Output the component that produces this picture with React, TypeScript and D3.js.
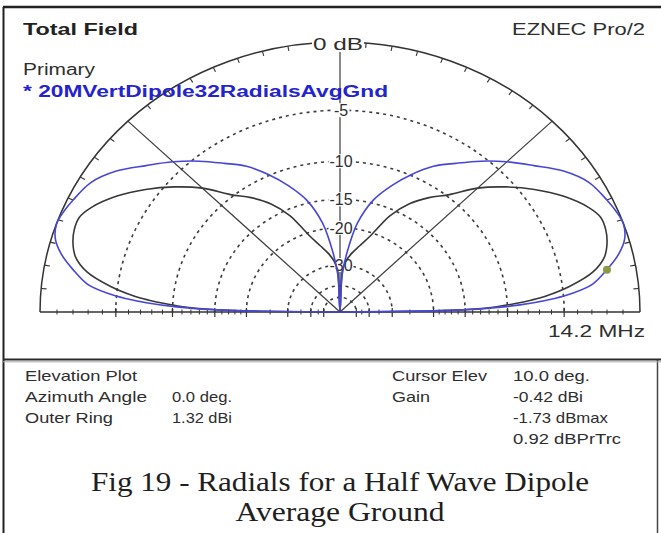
import React from 'react';
import * as d3 from 'd3';

// Elevation angles (deg) at which the two patterns are sampled; the far side mirrors them.
const elevationDeg = [0, 1, 2, 3, 4, 5, 7, 10, 13, 16, 19, 22, 25, 30, 35, 40, 45, 50, 55, 60, 65, 70, 75, 80, 84, 87, 90];
// Primary trace, gain in dBi
const primaryDbi = [-99, -15.7, -10.2, -8.0, -6.3, -5.0, -3.2, -1.34, -0.4, 0.0, 0.2, 0.2, -0.2, -1.3, -2.7, -4.3, -6.1, -8.4, -10.0, -11.9, -14.7, -19.2, -22.2, -24.7, -27.2, -30.7, -99];
// 20MVertDipole32RadialsAvgGnd trace, gain in dBi
const radialsDbi = [-99, -14.7, -9.1, -6.3, -4.4, -3.1, -1.5, -0.42, 0.5, 1.1, 1.31, 1.2, 1.0, 0.6, -0.3, -1.6, -2.8, -4.1, -5.5, -6.8, -8.6, -10.7, -13.2, -17.5, -24.7, -32.7, -99];

const outerRingDbi = 1.32;
const ringDb = [-5, -10, -15, -20, -30, -40, -50];
const labeledRingDb = [-5, -10, -15, -20, -30];
const baselineTickDb = [-1, -2, -3, -4, -6, -7, -8, -9, -11, -12, -13, -14, -16, -17, -18, -19, -25, -35, -45];
const arcTickDeg = [5, 10, 15, 20, 25, 30, 35, 40, 50, 55, 60, 65, 70, 75, 80, 85, 95, 100, 105, 110, 115, 120, 125, 130, 140, 145, 150, 155, 160, 165, 170, 175];
const spokeDeg = [45, 90, 135];

const cursorElevDeg = 10.0;
const cursorGainDbi = -0.42;

const infoLeft: [string, string][] = [
  ['Elevation Plot', ''],
  ['Azimuth Angle', '0.0 deg.'],
  ['Outer Ring', '1.32 dBi'],
];
const infoRight: [string, string][] = [
  ['Cursor Elev', '10.0 deg.'],
  ['Gain', '-0.42 dBi'],
  ['', '-1.73 dBmax'],
  ['', '0.92 dBPrTrc'],
];
const captionLines = ['Fig 19 - Radials for a Half Wave Dipole', 'Average Ground'];

const W = 661;
const H = 533;
const CX = 340;
const CY = 312;
const RX = 300;
const RY = 270;

const SANS = "'Liberation Sans', Arial, sans-serif";
const SERIF = "'Liberation Serif', 'Times New Roman', serif";
const INK = '#2e2e2e';
const BLUE_LINE = '#4747d6';
const BLUE_TEXT = '#2323cf';

// ARRL log scale: radius shrinks by 0.89 for every 2 dB below the outer ring
const ringRadius = (dbRel: number) => Math.pow(0.89, -dbRel / 2);

const xs = d3.scaleLinear().domain([-1, 1]).range([CX - RX, CX + RX]);
const ys = d3.scaleLinear().domain([0, 1]).range([CY, CY - RY]);

const toXY = (deg: number, r: number): [number, number] => {
  const a = (deg * Math.PI) / 180;
  return [xs(r * Math.cos(a)), ys(r * Math.sin(a))];
};

const fullPattern = (vals: number[]): [number, number][] => {
  const pts: [number, number][] = elevationDeg.map((e, i) => [e, vals[i]]);
  for (let i = elevationDeg.length - 2; i >= 0; i--) pts.push([180 - elevationDeg[i], vals[i]]);
  return pts;
};

const patternLine = d3
  .line<[number, number]>()
  .x((p) => toXY(p[0], ringRadius(p[1] - outerRingDbi))[0])
  .y((p) => toXY(p[0], ringRadius(p[1] - outerRingDbi))[1])
  .curve(d3.curveCatmullRom.alpha(0.5));

const halfEllipse = (r: number) =>
  `M${xs(-r)},${CY} A${RX * r},${RY * r} 0 0 1 ${xs(r)},${CY}`;

export default function App() {
  const cursor = toXY(cursorElevDeg, ringRadius(cursorGainDbi - outerRingDbi));
  const textW: Record<string, number> = {
    'Elevation Plot': 112,
    'Azimuth Angle': 122,
    'Outer Ring': 88,
    '0.0 deg.': 60,
    '1.32 dBi': 60,
    'Cursor Elev': 95,
    Gain: 38,
    '10.0 deg.': 77,
    '-0.42 dBi': 70,
    '-1.73 dBmax': 95,
    '0.92 dBPrTrc': 108,
  };
  const captionW = [498, 209];
  const rowY = [381, 402, 423, 444];

  return (
    <svg
      width={W}
      height={H}
      viewBox={`0 0 ${W} ${H}`}
      style={{ position: 'absolute', left: 0, top: 0, background: '#fff' }}
    >
      <defs>
        <clipPath id="upper">
          <rect x={0} y={0} width={W} height={CY + 1} />
        </clipPath>
      </defs>
      <rect x={0} y={0} width={W} height={H} fill="#fff" />

      {/* frame */}
      <line x1={3} y1={7} x2={W} y2={7} stroke="#222" strokeWidth={2.5} />
      <line x1={3.5} y1={7} x2={3.5} y2={H} stroke="#222" strokeWidth={2} />
      <line x1={657.5} y1={359} x2={657.5} y2={H} stroke="#444" strokeWidth={1.5} />
      <line x1={3} y1={359.5} x2={W} y2={359.5} stroke="#2a2a2a" strokeWidth={2.2} />
      <line x1={3} y1={361.8} x2={W} y2={361.8} stroke="#a8a8a8" strokeWidth={1} />

      {/* dB rings */}
      {ringDb.map((d) => (
        <path
          key={d}
          d={halfEllipse(ringRadius(d))}
          fill="none"
          stroke="#3c3c3c"
          strokeWidth={1.6}
          strokeDasharray="3 4"
        />
      ))}
      <path d={halfEllipse(1)} fill="none" stroke="#333" strokeWidth={1.5} />
      <line x1={xs(-1)} y1={CY} x2={xs(1)} y2={CY} stroke="#333" strokeWidth={1.5} />

      {/* spokes */}
      {spokeDeg.map((a) => {
        const [x2, y2] = toXY(a, 1);
        return <line key={a} x1={CX} y1={CY} x2={x2} y2={y2} stroke="#3a3a3a" strokeWidth={1.2} />;
      })}

      {/* ticks on the outer ring */}
      {arcTickDeg.map((a) => {
        const [x1, y1] = toXY(a, 1);
        const [x2, y2] = toXY(a, 0.982);
        return <line key={a} x1={x1} y1={y1} x2={x2} y2={y2} stroke="#333" strokeWidth={1.1} />;
      })}

      {/* dB ticks along the ground line */}
      {baselineTickDb.flatMap((d) =>
        [-1, 1].map((s) => {
          const x = xs(s * ringRadius(d));
          return <line key={`${d}${s}`} x1={x} y1={CY - 2.5} x2={x} y2={CY + 2.5} stroke="#333" strokeWidth={1} />;
        })
      )}
      {ringDb.flatMap((d) =>
        [-1, 1].map((s) => {
          const x = xs(s * ringRadius(d));
          return <line key={`r${d}${s}`} x1={x} y1={CY - 4} x2={x} y2={CY + 5} stroke="#333" strokeWidth={1.2} />;
        })
      )}

      {/* ring labels */}
      {labeledRingDb.map((d) => {
        const y = ys(ringRadius(d));
        const label = String(d);
        const w = label.length * 8 + 1;
        return (
          <g key={d}>
            <rect x={341 - w / 2} y={y - 7} width={w} height={14} fill="#fff" />
            <text
              x={341}
              y={y + 6}
              textAnchor="middle"
              fontFamily={SANS}
              fontSize={16}
              fill={INK}
            >
              {label}
            </text>
          </g>
        );
      })}
      <rect x={312} y={36} width={52} height={16} fill="#fff" />
      <text x={313} y={50} fontFamily={SANS} fontSize={17} fill={INK} textLength={50} lengthAdjust="spacingAndGlyphs">
        0 dB
      </text>

      {/* patterns */}
      <g clipPath="url(#upper)">
        <path d={patternLine(fullPattern(primaryDbi)) || ''} fill="none" stroke="#383838" strokeWidth={1.6} />
        <path d={patternLine(fullPattern(radialsDbi)) || ''} fill="none" stroke={BLUE_LINE} strokeWidth={1.6} />
      </g>
      <circle cx={cursor[0]} cy={cursor[1]} r={4} fill="#8c9a44" />

      {/* header texts */}
      <text x={23} y={35} fontFamily={SANS} fontWeight="bold" fontSize={17} fill="#222" textLength={115} lengthAdjust="spacingAndGlyphs">
        Total Field
      </text>
      <text x={23} y={75} fontFamily={SANS} fontSize={16} fill={INK} textLength={72} lengthAdjust="spacingAndGlyphs">
        Primary
      </text>
      <text x={23} y={97} fontFamily={SANS} fontWeight="bold" fontSize={16} fill={BLUE_TEXT} textLength={365} lengthAdjust="spacingAndGlyphs">
        * 20MVertDipole32RadialsAvgGnd
      </text>
      <text x={512} y={35} fontFamily={SANS} fontSize={17} fill={INK} textLength={133} lengthAdjust="spacingAndGlyphs">
        EZNEC Pro/2
      </text>
      <text x={548} y={337} fontFamily={SANS} fontSize={17} fill={INK} textLength={97} lengthAdjust="spacingAndGlyphs">
        14.2 MHz
      </text>

      {/* info panel */}
      {infoLeft.map(([k, v], i) => (
        <g key={`l${i}`}>
          {k && (
            <text x={25} y={rowY[i]} fontFamily={SANS} fontSize={15} fill={INK} textLength={textW[k]} lengthAdjust="spacingAndGlyphs">
              {k}
            </text>
          )}
          {v && (
            <text x={172} y={rowY[i]} fontFamily={SANS} fontSize={15} fill={INK} textLength={textW[v]} lengthAdjust="spacingAndGlyphs">
              {v}
            </text>
          )}
        </g>
      ))}
      {infoRight.map(([k, v], i) => (
        <g key={`r${i}`}>
          {k && (
            <text x={392} y={rowY[i]} fontFamily={SANS} fontSize={15} fill={INK} textLength={textW[k]} lengthAdjust="spacingAndGlyphs">
              {k}
            </text>
          )}
          {v && (
            <text x={513} y={rowY[i]} fontFamily={SANS} fontSize={15} fill={INK} textLength={textW[v]} lengthAdjust="spacingAndGlyphs">
              {v}
            </text>
          )}
        </g>
      ))}

      {/* caption */}
      {captionLines.map((t, i) => (
        <text
          key={t}
          x={340}
          y={491 + i * 30}
          textAnchor="middle"
          fontFamily={SERIF}
          fontSize={28}
          fill="#1e1e1e"
          textLength={captionW[i]}
          lengthAdjust="spacingAndGlyphs"
        >
          {t}
        </text>
      ))}
    </svg>
  );
}
